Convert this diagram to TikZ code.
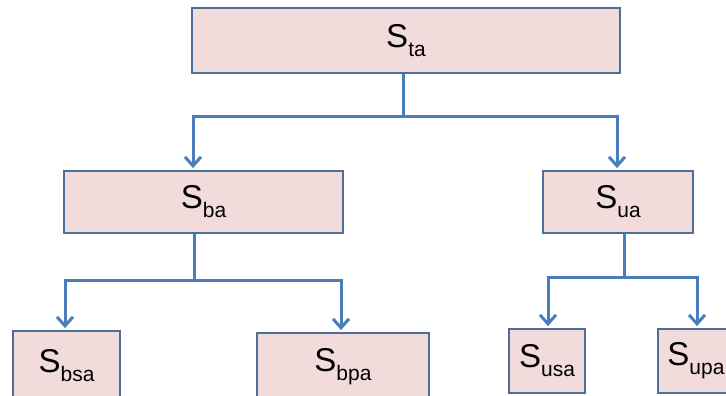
\documentclass[tikz,border=0pt]{standalone}
\usepackage{fontspec}
\setmainfont{Liberation Sans}
\usetikzlibrary{arrows.meta}
\definecolor{boxfill}{HTML}{F2DCDB}
\definecolor{boxline}{HTML}{4F6E9A}
\definecolor{linkblue}{HTML}{4A7EBB}
% S with a large lowered index
\newcommand{\slbl}[1]{S\raisebox{-9pt}{\fontsize{21}{21}\selectfont #1}}
\begin{document}
\begin{tikzpicture}[x=1pt,y=-1pt,
  box/.style={draw=boxline, line width=1.8pt, fill=boxfill, inner sep=0pt,
              font=\fontsize{33}{33}\selectfont},
  link/.style={draw=linkblue, line width=3pt},
  arr/.style={link, shorten >=2pt, -{Straight Barb[length=9pt,width=16pt]}}]
\useasboundingbox (0,0) rectangle (726,396);
\clip (0,0) rectangle (726,396);

% boxes
\node[box, minimum width=428pt, minimum height=65pt] (ta)  at (406,40.5)  {\slbl{ta}};
\node[box, minimum width=279pt, minimum height=62pt] (ba)  at (203.5,202) {\slbl{ba}};
\node[box, minimum width=150pt, minimum height=62pt] (ua)  at (618,202)   {\slbl{ua}};
\node[box, minimum width=107pt, minimum height=69pt] (bsa) at (66.5,365.5){\slbl{bsa}};
\node[box, minimum width=172pt, minimum height=67pt] (bpa) at (343,366.5) {\slbl{bpa}};
\node[box, minimum width=76pt,  minimum height=64pt] (usa) at (547,361)   {\slbl{usa}};
\node[box, minimum width=76pt,  minimum height=64pt] (upa) at (696,361)   {\slbl{upa}};

% connectors
\draw[arr] ([xshift=-3pt]ta.south) -- ++(0,43) -| ([xshift=-10.5pt]ba.north);
\draw[arr] ([xshift=-3pt]ta.south) -- ++(0,43) -| ([xshift=-1pt]ua.north);
\draw[arr] ([xshift=-9.5pt]ba.south) -- ++(0,47) -| ([xshift=-1.5pt]bsa.north);
\draw[arr] ([xshift=-9.5pt]ba.south) -- ++(0,47) -| ([xshift=-2pt]bpa.north);
\draw[arr] ([xshift=6pt]ua.south) -- ++(0,44) -| ([xshift=1pt]usa.north);
\draw[arr] ([xshift=6pt]ua.south) -- ++(0,44) -| ([xshift=1pt]upa.north);
\end{tikzpicture}
\end{document}
